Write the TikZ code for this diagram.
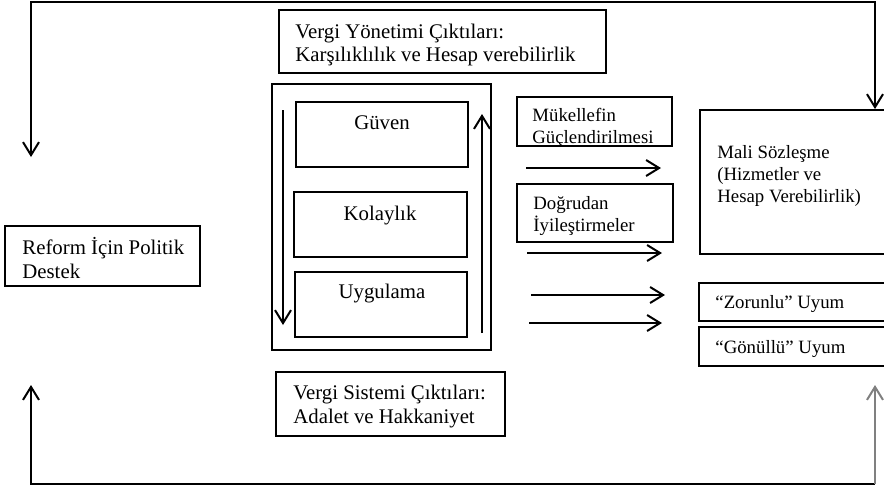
\documentclass[tikz,border=0pt]{standalone}
\usepackage{fontspec}
\setmainfont{Liberation Serif}
\usetikzlibrary{arrows.meta,fit}
\newcommand\lns[1]{\begin{tabular}[t]{@{}l@{}}#1\end{tabular}}
\begin{document}
\begin{tikzpicture}[x=0.5pt,y=-0.5pt,
  box/.style={draw,line width=0.95pt,inner sep=0pt},
  bigtxt/.style={font=\fontsize{10.4pt}{11.9pt}\selectfont,inner sep=0pt,anchor=base west},
  smalltxt/.style={font=\fontsize{9.4pt}{11pt}\selectfont,inner sep=0pt,anchor=base west},
  ctxt/.style={font=\fontsize{10.4pt}{11.9pt}\selectfont,inner sep=0pt,anchor=base},
  arr/.style={line width=1pt,-{Straight Barb[length=6.5pt,width=8pt]}},
  arrboth/.style={line width=1pt,{Straight Barb[length=6.5pt,width=8pt]}-{Straight Barb[length=6.5pt,width=8pt]}},
]
\useasboundingbox (0,0) rectangle (884,488);

% boxes
\node[box, fit={(279,10) (606,73)}] (vyo) {};
\node[bigtxt] (vyot) at (295,38) {\lns{Vergi Yönetimi Çıktıları:\\Karşılıklılık ve Hesap verebilirlik}};

\node[box, fit={(272,84) (491,350)}] (frame) {};
\node[box, fit={(296,102) (468,167)}] (guven) {};
\node[ctxt] (guvent) at (382,129) {Güven};
\node[box, fit={(294,192) (467,257)}] (kolay) {};
\node[ctxt] (kolayt) at (380,220) {Kolaylık};
\node[box, fit={(295,272) (467,337)}] (uyg) {};
\node[ctxt] (uygt) at (382,298) {Uygulama};

\node[box, fit={(517,97) (672,146)}] (muk) {};
\node[smalltxt] (mukt) at (532,121) {\lns{Mükellefin\\Güçlendirilmesi}};
\node[box, fit={(517,184) (673,242)}] (dog) {};
\node[smalltxt] (dogt) at (533,209) {\lns{Doğrudan\\İyileştirmeler}};

\node[box, fit={(700,110) (888,254)}] (mali) {};
\node[smalltxt] (malit) at (717,158) {\lns{Mali Sözleşme\\(Hizmetler ve\\Hesap Verebilirlik)}};
\node[box, fit={(699,283) (888,321)}] (zor) {};
\node[smalltxt] (zort) at (715,308) {“Zorunlu” Uyum};
\node[box, fit={(699,327) (888,366)}] (gon) {};
\node[smalltxt] (gont) at (715,353) {“Gönüllü” Uyum};

\node[box, fit={(5,226) (200,286)}] (ref) {};
\node[bigtxt] (reft) at (22,254.5) {\lns{Reform İçin Politik\\Destek}};

\node[box, fit={(276,372) (505,436)}] (vsc) {};
\node[bigtxt] (vsct) at (293,399.5) {\lns{Vergi Sistemi Çıktıları:\\Adalet ve Hakkaniyet}};

% coordinates for connectors
\coordinate (dA) at (283,110);
\coordinate (dB) at (283,325);
\coordinate (uA) at (482,333);
\coordinate (uB) at (482,114);
\coordinate (a1s) at (526,168); \coordinate (a1e) at (661,168);
\coordinate (a2s) at (527,253); \coordinate (a2e) at (662,253);
\coordinate (a3s) at (531,295); \coordinate (a3e) at (665,295);
\coordinate (a4s) at (529,323); \coordinate (a4e) at (662,323);
\coordinate (tl) at (31,1.5);
\coordinate (tr) at (875,1.5);
\coordinate (tlend) at (31,157);
\coordinate (bl) at (31,484);
\coordinate (br) at (875,484);
\coordinate (blend) at (31,385);
\coordinate (brend) at (875,385);

% arrows
\draw[arr] (dA) -- (dB);
\draw[arr] (uA) -- (uB);
\draw[arr] (a1s) -- (a1e);
\draw[arr] (a2s) -- (a2e);
\draw[arr] (a3s) -- (a3e);
\draw[arr] (a4s) -- (a4e);

\draw[arrboth] (tlend) -- (tl) -- (tr) -- (tr |- mali.north);
\draw[arr] (br) -- (bl) -- (blend);
\draw[arr, draw=black!50] (br) -- (brend);
\end{tikzpicture}
\end{document}
